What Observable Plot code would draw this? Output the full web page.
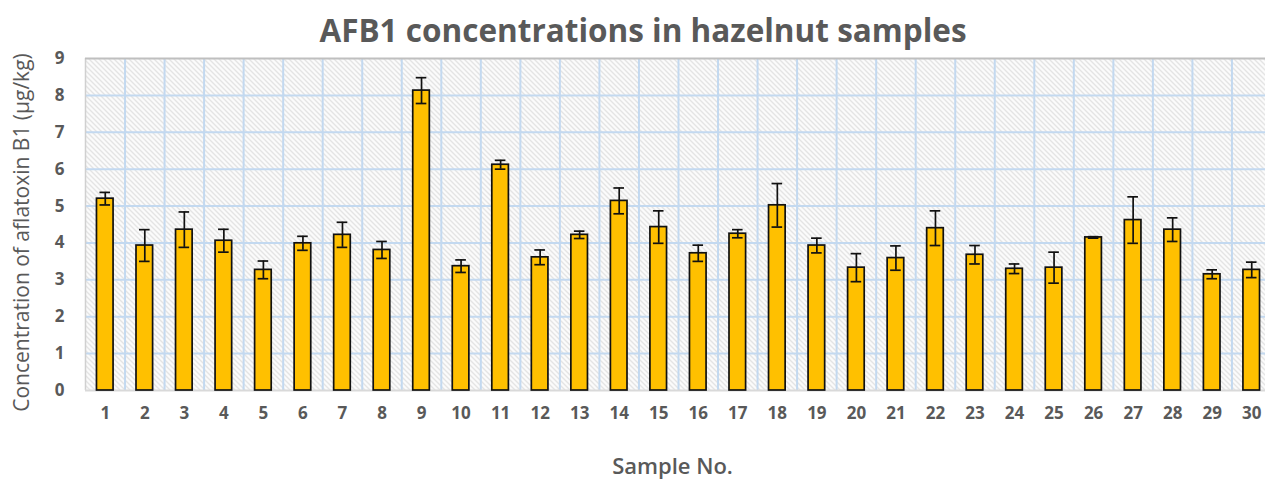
<!DOCTYPE html>
<html>
<head>
<meta charset="utf-8">
<script src="https://cdn.jsdelivr.net/npm/d3@7"></script>
<script src="https://cdn.jsdelivr.net/npm/@observablehq/plot@0.6"></script>
<style>
  html, body { margin: 0; padding: 0; background: #ffffff; overflow: hidden; width: 1265px; height: 479px; }
  #title { position: absolute; left: 0; top: 9px; width: 1286px; text-align: center; z-index: 2;
           font-family: "Open Sans", Lato, sans-serif; font-weight: bold; font-size: 31.5px; color: #595959; line-height: 42px; }
  #chart { position: absolute; left: 0; top: 40px; }
  #chart svg { max-width: none !important; overflow: visible; }
</style>
</head>
<body>
<div id="title">AFB1 concentrations in hazelnut samples</div>
<div id="chart"></div>
<script>
const samples = ["1","2","3","4","5","6","7","8","9","10","11","12","13","14","15","16","17","18","19","20","21","22","23","24","25","26","27","28","29","30"];
const values = [5.20, 3.93, 4.36, 4.06, 3.27, 3.99, 4.22, 3.81, 8.13, 3.37, 6.12, 3.61, 4.22, 5.14, 4.43, 3.72, 4.25, 5.02, 3.93, 3.33, 3.59, 4.40, 3.68, 3.30, 3.33, 4.15, 4.62, 4.36, 3.15, 3.27];
const errors = [0.17, 0.43, 0.48, 0.31, 0.24, 0.19, 0.34, 0.23, 0.35, 0.17, 0.12, 0.20, 0.10, 0.35, 0.44, 0.22, 0.11, 0.59, 0.20, 0.38, 0.33, 0.47, 0.25, 0.13, 0.42, 0.02, 0.63, 0.32, 0.12, 0.21];
const yTicks = [0,1,2,3,4,5,6,7,8,9];
const yLabel = "Concentration of aflatoxin B1 (μg/kg)";
const xLabel = "Sample No.";

const data = samples.map((s, i) => ({sample: s, value: values[i], lo: values[i] - errors[i], hi: values[i] + errors[i]}));

const W = 1271, ML = 85, MR = 0;
const step = (W - ML - MR) / samples.length;
const grid = "#c3d9f0";

const chart = Plot.plot({
  width: W,
  height: 439,
  marginLeft: ML,
  marginRight: MR,
  marginTop: 18,
  marginBottom: 89,
  style: {fontFamily: "'Open Sans', Lato, sans-serif", fontSize: "17px", fontWeight: "bold", color: "#595959", background: "transparent"},
  x: {domain: samples, paddingInner: 0.58, paddingOuter: 0.29, round: false, label: null, tickSize: 0, tickPadding: 16},
  y: {domain: [0, 9], ticks: yTicks, label: null, tickSize: 0, tickPadding: 21},
  marks: [
    Plot.frame({fill: "url(#hatch)", stroke: null}),
    Plot.gridY(yTicks.slice(1, -1), {stroke: grid, strokeOpacity: 1, strokeWidth: 2}),
    Plot.ruleX(samples.slice(0, -1), {x: d => d, dx: step / 2, stroke: grid, strokeWidth: 2}),
    Plot.ruleX([samples[0]], {x: d => d, dx: -step / 2, stroke: "#d0d0d0", strokeWidth: 1.5}),
    Plot.ruleY([9], {stroke: "#bfbfbf", strokeWidth: 2}),
    Plot.ruleY([0], {stroke: "#d9d9d9", strokeWidth: 2}),
    Plot.barY(data, {x: "sample", y: "value", fill: "#FFC000", stroke: "#111111", strokeWidth: 1.7}),
    Plot.ruleX(data, {x: "sample", y1: "lo", y2: "hi", stroke: "#111111", strokeWidth: 1.7}),
    Plot.tickY(data, {x: "sample", y: "hi", stroke: "#111111", strokeWidth: 1.7, insetLeft: 3, insetRight: 3}),
    Plot.tickY(data, {x: "sample", y: "lo", stroke: "#111111", strokeWidth: 1.7, insetLeft: 3, insetRight: 3}),
    Plot.text([yLabel], {frameAnchor: "left", rotate: -90, dx: -63, dy: 8, text: d => d, fontSize: 21, fontWeight: "normal", fill: "#595959", textAnchor: "middle"}),
    Plot.text([xLabel], {frameAnchor: "bottom", dy: 76, dx: -6, text: d => d, fontSize: 22, fontWeight: 600, fill: "#595959", lineAnchor: "middle"})
  ]
});

// hatch pattern for the plot background
const svg = d3.select(chart.tagName.toLowerCase() === "svg" ? chart : chart.querySelector("svg"));
const defs = svg.insert("defs", ":first-child");
const pat = defs.append("pattern").attr("id", "hatch").attr("patternUnits", "userSpaceOnUse")
  .attr("width", 5).attr("height", 5);
pat.append("rect").attr("width", 5).attr("height", 5).attr("fill", "#fbfbfb");
pat.append("path").attr("d", "M-1,-1 L6,6 M-1,4 L1,6 M4,-1 L6,1").attr("stroke", "#cdcdcd").attr("stroke-width", 1);

document.getElementById("chart").appendChild(chart);
</script>
</body>
</html>
